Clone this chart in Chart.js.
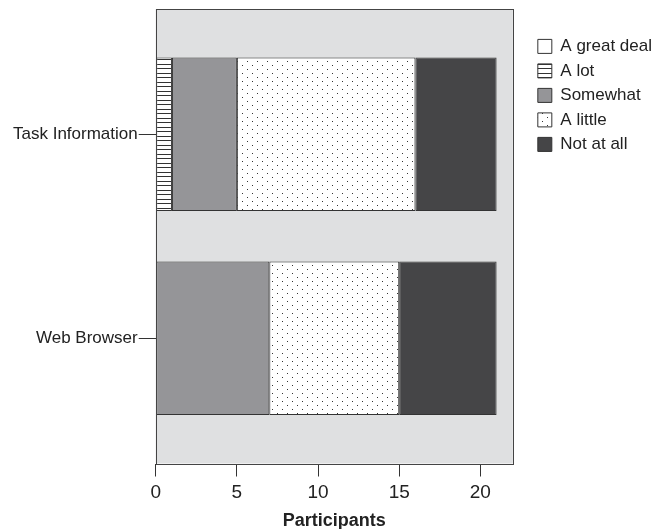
<!DOCTYPE html>
<html>
<head>
<meta charset="utf-8">
<script src="https://cdn.jsdelivr.net/npm/chart.js@4.4.1/dist/chart.umd.min.js"></script>
<style>
  html, body { margin: 0; padding: 0; background: #fff; }
  #wrap { width: 666px; height: 529px; position: relative; }
</style>
</head>
<body>
<div id="wrap"><canvas id="chart"></canvas></div>
<script>
// participants per answer, one entry per category
const categories = ["Task Information", "Web Browser"];
const greatDeal = [0, 0];
const aLot = [1, 0];
const somewhat = [4, 7];
const aLittle = [11, 8];
const notAtAll = [5, 6];
const xTickValues = [0, 5, 10, 15, 20];

const FONT = "'Liberation Sans', Arial, Helvetica, sans-serif";
const INK = "#222";
const EDGE = "#333";

const canvas = document.getElementById("chart");
const ctx = canvas.getContext("2d");

function makePattern(w, h, draw) {
    const c = document.createElement("canvas");
    c.width = w;
    c.height = h;
    const g = c.getContext("2d");
    g.fillStyle = "#fff";
    g.fillRect(0, 0, w, h);
    draw(g);
    return ctx.createPattern(c, "repeat");
}

const stripes = makePattern(4, 9, g => {
    g.fillStyle = EDGE;
    g.fillRect(0, 1, 4, 1);
    g.fillRect(0, 5, 4, 1);
});

const dots = makePattern(10, 8, g => {
    g.fillStyle = "#333";
    g.fillRect(2, 1, 1, 1);
    g.fillRect(7, 5, 1, 1);
});

const toPoints = vals => vals.map((v, i) => ({ x: v, y: i }));

const series = [
    { label: "A great deal", data: greatDeal, fill: "#ffffff" },
    { label: "A lot", data: aLot, fill: stripes },
    { label: "Somewhat", data: somewhat, fill: "#959598" },
    { label: "A little", data: aLittle, fill: dots },
    { label: "Not at all", data: notAtAll, fill: "#454547" },
];

// light grey plot panel plus a frame on all four sides
const plotFrame = {
    id: "plotFrame",
    beforeDraw(chart) {
        const { left, top, width, height } = chart.chartArea;
        const c = chart.ctx;
        c.save();
        c.fillStyle = "#dfe0e1";
        c.fillRect(left, top, width, height);
        c.restore();
    },
    afterDatasetsDraw(chart) {
        const { left, top, width, height } = chart.chartArea;
        const c = chart.ctx;
        c.save();
        c.strokeStyle = "#444";
        c.lineWidth = 1;
        c.strokeRect(Math.round(left) + 0.5, Math.round(top) + 0.5, Math.round(width), Math.round(height));
        c.restore();
    },
};

new Chart(ctx, {
    type: "bar",
    data: {
        datasets: series.map(s => ({
            label: s.label,
            data: toPoints(s.data),
            backgroundColor: s.fill,
            borderColor: EDGE,
            borderWidth: 1,
            borderSkipped: false,
            categoryPercentage: 1,
            barPercentage: 0.753,
        })),
    },
    options: {
        indexAxis: "y",
        responsive: true,
        maintainAspectRatio: false,
        animation: false,
        layout: { padding: { left: 12, top: 9, right: 4, bottom: -1 } },
        plugins: {
            legend: {
                position: "right",
                align: "start",
                maxWidth: 200,
                title: { display: true, text: " ", font: { size: 10, lineHeight: 1 }, padding: 5.7 },
                labels: {
                    boxWidth: 14,
                    boxHeight: 14,
                    padding: 7.5,
                    color: INK,
                    font: { family: FONT, size: 17 },
                },
            },
            tooltip: { enabled: false },
        },
        scales: {
            x: {
                type: "linear",
                stacked: true,
                min: 0,
                max: 22,
                afterBuildTicks: scale => { scale.ticks = xTickValues.map(v => ({ value: v })); },
                grid: { drawOnChartArea: false, tickLength: 13, color: EDGE },
                border: { display: false },
                ticks: { padding: 6.5, color: INK, font: { family: FONT, size: 19, lineHeight: 1 } },
                title: {
                    display: true,
                    text: "Participants",
                    color: INK,
                    font: { family: FONT, size: 18, weight: "bold", lineHeight: 1 },
                    padding: { top: 3.5, bottom: 0 },
                },
            },
            y: {
                type: "linear",
                stacked: true,
                reverse: true,
                offset: false,
                min: -0.615,
                max: 1.615,
                afterBuildTicks: scale => { scale.ticks = categories.map((_, i) => ({ value: i })); },
                afterFit: scale => { scale.paddingTop = 0; scale.paddingBottom = 0; },
                grid: { offset: false, drawOnChartArea: false, tickLength: 17, color: EDGE },
                border: { display: false },
                ticks: {
                    padding: 1,
                    color: INK,
                    font: { family: FONT, size: 17 },
                    callback: v => categories[v] ?? "",
                },
            },
            // invisible spacer between the plot panel and the legend
            gap: {
                type: "linear",
                position: "right",
                display: false,
                afterFit: scale => { scale.width = 17.5; },
            },
        },
    },
    plugins: [plotFrame],
});
</script>
</body>
</html>
